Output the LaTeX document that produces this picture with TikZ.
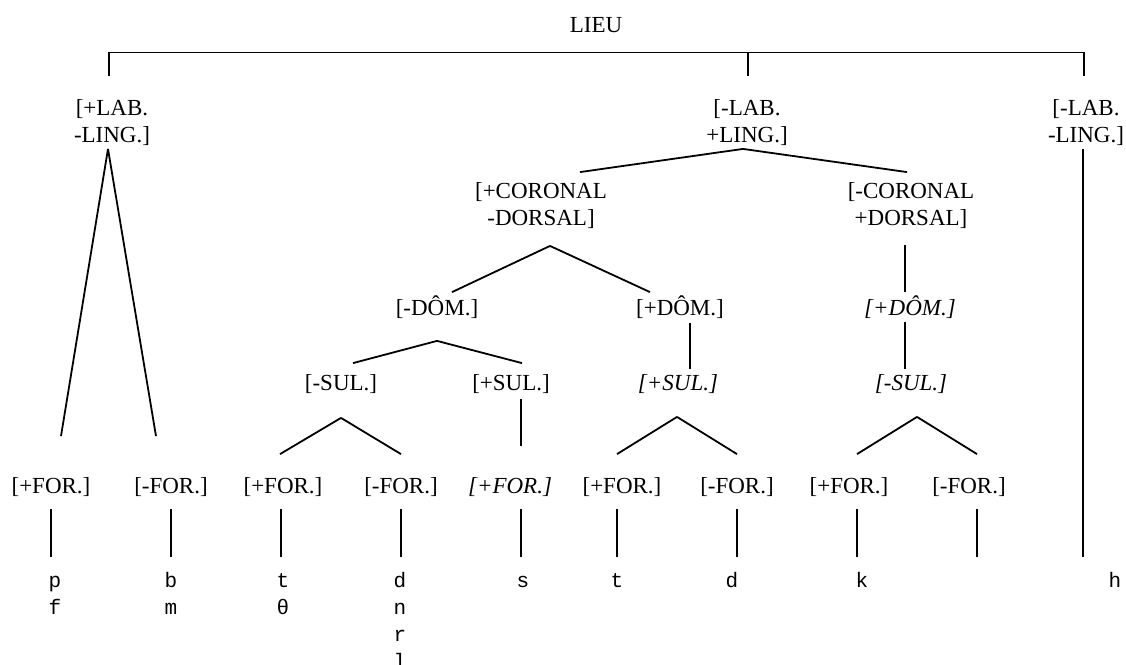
\documentclass[tikz,border=0pt]{standalone}
\usepackage{fontspec}
\setmainfont{Liberation Serif}
\newfontfamily\phonfont{Liberation Mono}
\tikzset{
  featii/.style={inner sep=0pt, align=center, font=\fontsize{23}{27}\selectfont},
  feat/.style={inner sep=0pt, text height=15pt, text depth=4pt, font=\fontsize{23}{27}\selectfont},
  featit/.style={feat, font=\fontsize{23}{27}\selectfont\itshape},
  phon/.style={inner sep=0pt, anchor=north, align=center, font=\phonfont\fontsize{21}{27}\selectfont},
}
\begin{document}
\begin{tikzpicture}[x=1pt, y=1pt, line width=1.8pt]
  \useasboundingbox (0,0) rectangle (1126,-664);
  % racine et premier niveau
  \node[featii] (lieu) at (596,-25) {LIEU};
  \node[featii] (labp) at (112,-123) {[+LAB.\\-LING.]};
  \node[featii] (ling) at (747,-123) {[-LAB.\\+LING.]};
  \node[featii] (labn) at (1086,-123) {[-LAB.\\-LING.]};
  \coordinate (bar) at ([yshift=-19pt]lieu.south);
  \draw ([shift={(-3,23)}]labp.north) |- (bar) -| ([shift={(-2,23)}]labn.north);
  \draw ([shift={(1,23)}]ling.north) |- (bar);
  % coronal / dorsal
  \node[featii] (corp) at (541,-206) {[+CORONAL\\-DORSAL]};
  \node[featii] (corn) at (911,-206) {[-CORONAL\\+DORSAL]};
  \draw ([shift={(-4,-2)}]ling.south) -- ([shift={(39,10)}]corp.north);
  \draw ([shift={(-4,-2)}]ling.south) -- ([shift={(-4,10)}]corn.north);
  % dômé
  \node[feat] (domn) at (437,-310) {[-DÔM.]};
  \node[feat] (domp) at (680,-310) {[+DÔM.]};
  \node[featit] (domi) at (910,-310) {[+DÔM.]};
  \draw ([shift={(9,-16)}]corp.south) -- ([shift={(15,7.5)}]domn.north);
  \draw ([shift={(9,-16)}]corp.south) -- ([shift={(-30,7.5)}]domp.north);
  \draw ([shift={(-6,-15)}]corn.south) -- ([shift={(-5,7.5)}]domi.north);
  % sulcal
  \node[feat] (suln) at (341,-385) {[-SUL.]};
  \node[feat] (sulp) at (511,-385) {[+SUL.]};
  \node[featit] (sulpi) at (678,-385) {[+SUL.]};
  \node[featit] (sulni) at (911,-385) {[-SUL.]};
  \draw ([yshift=-20.5pt]domn.south) -- ([shift={(12,11.5)}]suln.north);
  \draw ([yshift=-20.5pt]domn.south) -- ([shift={(11,11.5)}]sulp.north);
  \draw ([shift={(10,-2.5)}]domp.south) -- ([shift={(12,5.5)}]sulpi.north);
  \draw ([shift={(-5,-1.5)}]domi.south) -- ([shift={(-6,5.5)}]sulni.north);
  % force
  \node[feat] (for1) at (51,-488) {[+FOR.]};
  \node[feat] (for2) at (171,-488) {[-FOR.]};
  \node[feat] (for3) at (283,-488) {[+FOR.]};
  \node[feat] (for4) at (401,-488) {[-FOR.]};
  \node[featit] (for5) at (510,-488) {[+FOR.]};
  \node[feat] (for6) at (622,-488) {[+FOR.]};
  \node[feat] (for7) at (737,-488) {[-FOR.]};
  \node[feat] (for8) at (849,-488) {[+FOR.]};
  \node[feat] (for9) at (969,-488) {[-FOR.]};
  \draw ([shift={(-4,-2)}]labp.south) -- ([shift={(10,41.5)}]for1.north);
  \draw ([shift={(-4,-2)}]labp.south) -- ([shift={(-15,41.5)}]for2.north);
  \draw ([yshift=-22.5pt]suln.south) -- ([shift={(-3,23.5)}]for3.north);
  \draw ([yshift=-22.5pt]suln.south) -- ([yshift=23.5pt]for4.north);
  \draw ([shift={(10,-3.5)}]sulp.south) -- ([shift={(11,31.5)}]for5.north);
  \draw ([shift={(-1,-21.5)}]sulpi.south) -- ([shift={(-5,23.5)}]for6.north);
  \draw ([shift={(-1,-21.5)}]sulpi.south) -- ([yshift=23.5pt]for7.north);
  \draw ([shift={(6,-21.5)}]sulni.south) -- ([shift={(8,23.5)}]for8.north);
  \draw ([shift={(6,-21.5)}]sulni.south) -- ([shift={(8,23.5)}]for9.north);
  % segments
  \node[phon] (ph1) at (55,-568) {\strut p\\f};
  \node[phon] (ph2) at (171,-568) {\strut b\\m};
  \node[phon] (ph3) at (283,-568) {\strut t\\θ};
  \node[phon] (ph4) at (400,-568) {\strut d\\n\\r\\l};
  \node[phon] (ph5) at (523,-568) {\strut s};
  \node[phon] (ph6) at (617,-568) {\strut t};
  \node[phon] (ph7) at (732,-568) {\strut d};
  \node[phon] (ph8) at (862,-568) {\strut k};
  \node[phon] (ph9) at (1115,-568) {\strut h};
  \coordinate (end9) at (977,-557);
  \draw ([yshift=-10.5pt]for1.south) -- ([shift={(-4,11)}]ph1.north);
  \draw ([yshift=-10.5pt]for2.south) -- ([yshift=11pt]ph2.north);
  \draw ([shift={(-2,-10.5)}]for3.south) -- ([shift={(-2,11)}]ph3.north);
  \draw ([yshift=-10.5pt]for4.south) -- ([shift={(1,11)}]ph4.north);
  \draw ([shift={(11,-10.5)}]for5.south) -- ([shift={(-2,11)}]ph5.north);
  \draw ([shift={(-5,-10.5)}]for6.south) -- ([yshift=11pt]ph6.north);
  \draw ([yshift=-10.5pt]for7.south) -- ([shift={(5,11)}]ph7.north);
  \draw ([shift={(8,-10.5)}]for8.south) -- ([shift={(-5,11)}]ph8.north);
  \draw ([shift={(8,-10.5)}]for9.south) -- (end9);
  \draw ([shift={(-3,-2)}]labn.south) -- ([shift={(-32,11)}]ph9.north);
\end{tikzpicture}
\end{document}
